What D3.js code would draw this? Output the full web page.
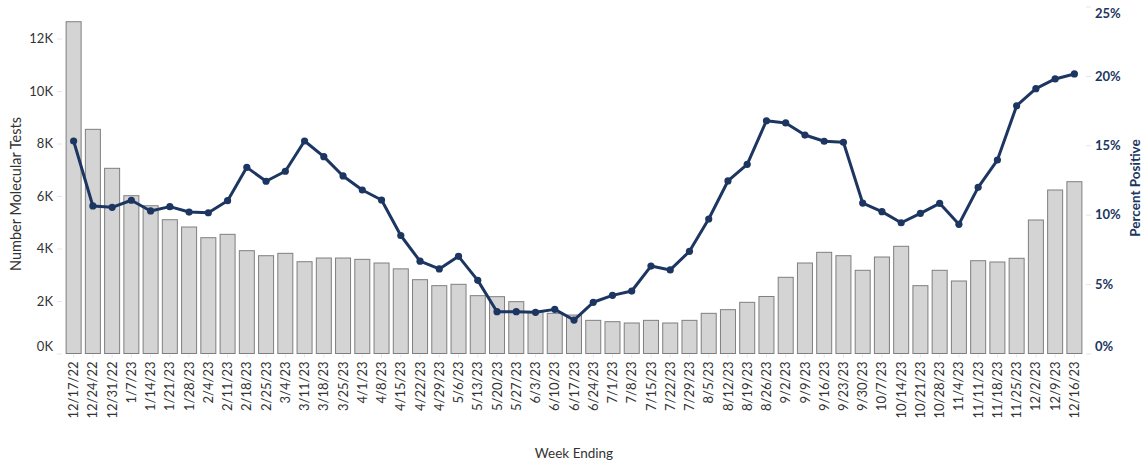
<!DOCTYPE html>
<html>
<head>
<meta charset="utf-8">
<script src="https://cdn.jsdelivr.net/npm/d3@7"></script>
<style>
  body { margin: 0; background: #fff; }
  text { font-family: Lato, "Open Sans", sans-serif; }
</style>
</head>
<body>
<script>
// weekly data, week ending dates
var weeks = ["12/17/22","12/24/22","12/31/22","1/7/23","1/14/23","1/21/23","1/28/23","2/4/23","2/11/23","2/18/23",
  "2/25/23","3/4/23","3/11/23","3/18/23","3/25/23","4/1/23","4/8/23","4/15/23","4/22/23","4/29/23",
  "5/6/23","5/13/23","5/20/23","5/27/23","6/3/23","6/10/23","6/17/23","6/24/23","7/1/23","7/8/23",
  "7/15/23","7/22/23","7/29/23","8/5/23","8/12/23","8/19/23","8/26/23","9/2/23","9/9/23","9/16/23",
  "9/23/23","9/30/23","10/7/23","10/14/23","10/21/23","10/28/23","11/4/23","11/11/23","11/18/23","11/25/23",
  "12/2/23","12/9/23","12/16/23"];

var tests = [12640,8540,7055,6012,5630,5097,4819,4412,4540,3917,
  3726,3816,3497,3638,3638,3587,3448,3225,2812,2584,
  2636,2203,2165,1975,1590,1530,1466,1263,1212,1162,
  1263,1162,1263,1530,1670,1950,2172,2903,3448,3855,
  3726,3170,3676,4084,2584,3170,2762,3535,3486,3627,
  5086,6229,6545];

var pctPositive = [15.31,10.63,10.53,11.04,10.27,10.58,10.19,10.14,11.01,13.41,
  12.41,13.13,15.31,14.18,12.79,11.78,11.06,8.5,6.65,6.09,
  7.0,5.27,3.01,3.01,2.97,3.18,2.41,3.69,4.19,4.5,
  6.3,6.02,7.36,9.69,12.43,13.63,16.77,16.61,15.74,15.29,
  15.22,10.84,10.22,9.42,10.1,10.82,9.31,11.97,13.94,17.85,
  19.08,19.78,20.14];

var testTicks = [0,2000,4000,6000,8000,10000,12000];
var pctTicks = [0,5,10,15,20,25];

var width = 1144, height = 468;
var plot = { left: 64, right: 1084, top: 6.5, bottom: 353.5 };
var navy = "#1c3661";

var svg = d3.select("body").append("svg")
  .attr("width", width)
  .attr("height", height);

var x = d3.scaleBand()
  .domain(weeks)
  .range([plot.left, plot.right])
  .paddingInner(0.22)
  .paddingOuter(0.11);

var yLeft = d3.scaleLinear()
  .domain([0, 13220])
  .range([plot.bottom, plot.top]);

var yRight = d3.scaleLinear()
  .domain([0, 25])
  .range([plot.bottom, plot.top]);

// bars
svg.append("g").selectAll("rect")
  .data(tests)
  .join("rect")
  .attr("x", (d, i) => x(weeks[i]))
  .attr("y", d => yLeft(d))
  .attr("width", x.bandwidth())
  .attr("height", d => yLeft(0) - yLeft(d))
  .attr("fill", "#d4d4d4")
  .attr("stroke", "#7f7f7f")
  .attr("stroke-width", 1);

// line
var line = d3.line()
  .x((d, i) => x(weeks[i]) + x.bandwidth() / 2)
  .y(d => yRight(d));

svg.append("path")
  .datum(pctPositive)
  .attr("d", line)
  .attr("fill", "none")
  .attr("stroke", navy)
  .attr("stroke-width", 3)
  .attr("stroke-linejoin", "round");

svg.append("g").selectAll("circle")
  .data(pctPositive)
  .join("circle")
  .attr("cx", (d, i) => x(weeks[i]) + x.bandwidth() / 2)
  .attr("cy", d => yRight(d))
  .attr("r", 3.6)
  .attr("fill", navy);

// left axis
var leftAxis = svg.append("g")
  .attr("transform", "translate(" + (plot.left - 2) + ",0)")
  .call(d3.axisLeft(yLeft).tickValues(testTicks)
    .tickFormat(d => (d / 1000) + "K").tickSize(5).tickPadding(4));
leftAxis.select(".domain").remove();
leftAxis.selectAll(".tick line").attr("stroke", "#e6e6e6");
leftAxis.selectAll("text").attr("font-size", 13).attr("fill", "#333");
leftAxis.selectAll(".tick").filter(d => d === 0).select("text").attr("dy", "-0.25em");

// right axis
var rightAxis = svg.append("g")
  .attr("transform", "translate(" + (plot.right + 2) + ",0)")
  .call(d3.axisRight(yRight).tickValues(pctTicks)
    .tickFormat(d => d + "%").tickSize(5).tickPadding(4));
rightAxis.select(".domain").remove();
rightAxis.selectAll(".tick line").attr("stroke", "#e6e6e6");
rightAxis.selectAll("text").attr("font-size", 13).attr("font-weight", "bold").attr("fill", navy);
rightAxis.selectAll(".tick").filter(d => d === 25).select("text").attr("dy", "0.85em");
rightAxis.selectAll(".tick").filter(d => d === 0).select("text").attr("dy", "-0.25em");

// x axis
var xAxis = svg.append("g")
  .attr("transform", "translate(0," + (plot.bottom + 1) + ")")
  .call(d3.axisBottom(x).tickSize(3).tickPadding(4));
xAxis.select(".domain").remove();
xAxis.selectAll(".tick line").attr("stroke", "#e6e6e6");
xAxis.selectAll("text")
  .attr("font-size", 13)
  .attr("fill", "#333")
  .attr("transform", "rotate(-90)")
  .attr("text-anchor", "end")
  .attr("x", -7)
  .attr("y", 0)
  .attr("dy", "0.35em");

// axis titles
svg.append("text")
  .attr("transform", "translate(21,194) rotate(-90)")
  .attr("text-anchor", "middle")
  .attr("font-size", 14.5)
  .attr("fill", "#333")
  .text("Number Molecular Tests");

svg.append("text")
  .attr("transform", "translate(1140,188) rotate(-90)")
  .attr("text-anchor", "middle")
  .attr("font-size", 13.5)
  .attr("font-weight", "bold")
  .attr("fill", navy)
  .text("Percent Positive");

svg.append("text")
  .attr("x", (plot.left + plot.right) / 2)
  .attr("y", 458)
  .attr("text-anchor", "middle")
  .attr("font-size", 13.5)
  .attr("fill", "#333")
  .text("Week Ending");
</script>
</body>
</html>
